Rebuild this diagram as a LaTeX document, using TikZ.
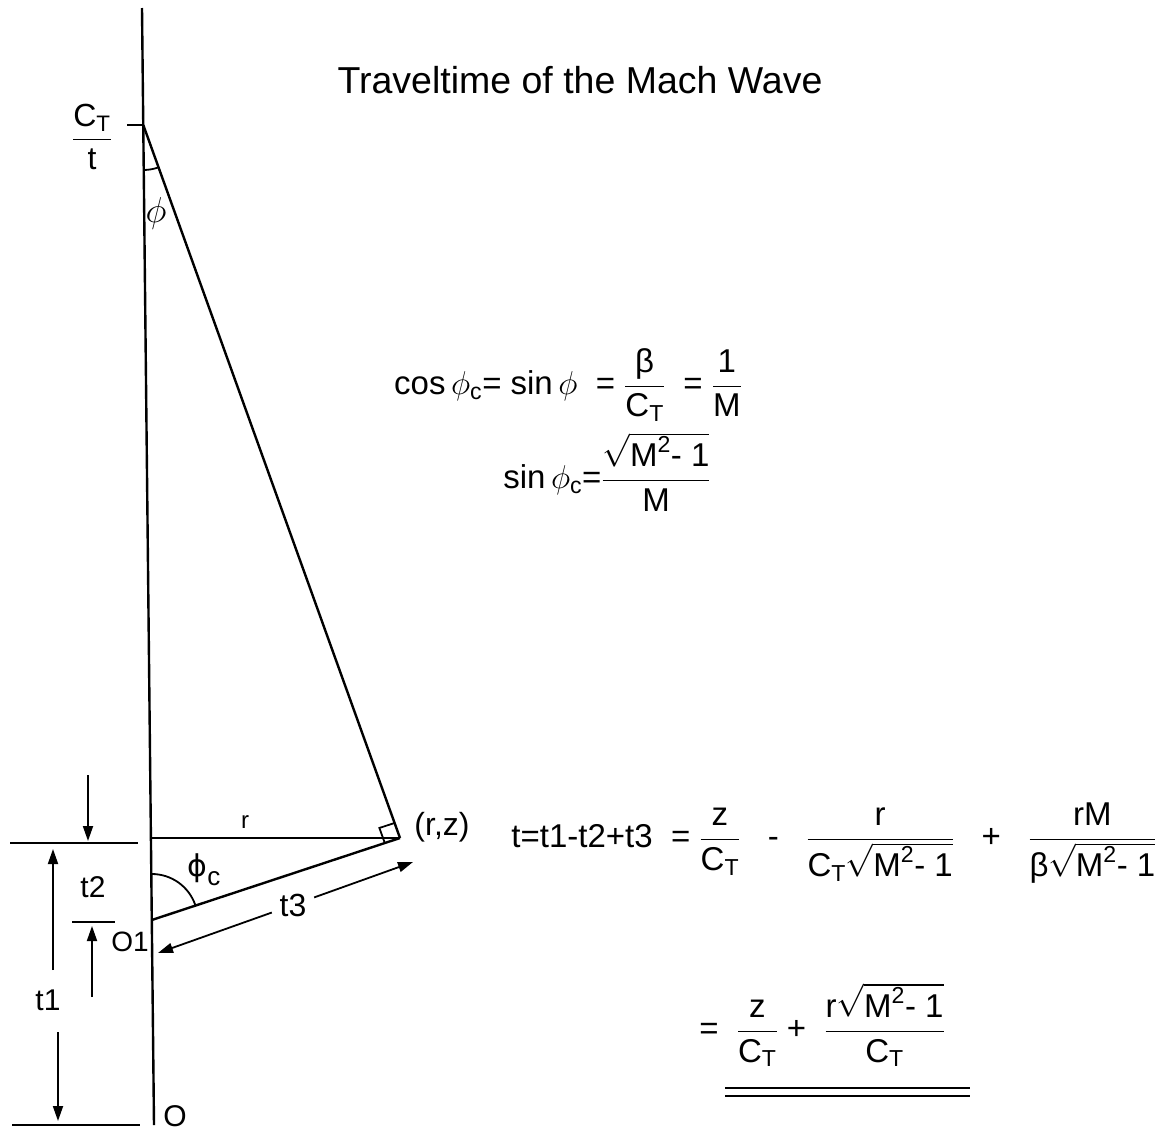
\RequirePackage{fix-cm}
\documentclass[tikz,border=0pt]{standalone}
\usepackage{amsmath}
\usepackage{fontspec}
\setmainfont{Liberation Sans}
\newfontfamily\dvs{DejaVu Sans}
\usetikzlibrary{calc,angles,arrows.meta}
\newcommand\T[1]{\text{#1}}
\newcommand\fsz[1]{\fontsize{#1}{#1}\selectfont}
\begin{document}
\begin{tikzpicture}[x=1pt,y=1pt,
  line width=2.4pt,
  >={Triangle[length=15pt,width=10pt]},
  lbl/.style={inner sep=1pt,font=\fsz{30}},
  eqn/.style={inner sep=0pt,font=\fsz{33}},
  thin line/.style={line width=1.8pt}]
\fill[white] (0,0) rectangle (1165,-1133);
\useasboundingbox (0,0) rectangle (1165,-1133);

% title
\node[font=\fsz{37.5}] (title) at (580,-80) {Traveltime of the Mach Wave};

% axis and triangle
\coordinate (top) at (142,-8);
\coordinate (bot) at (154,-1125);
\coordinate (A) at (143.3,-125);
\coordinate (H) at (150.9,-838);
\coordinate (O1) at (151.8,-920);
\coordinate (P) at (400,-838);
\coordinate (tk) at (127,-125);
\draw (top) -- (bot);
\draw (tk) -- (A);
\draw (A) -- (P);
\draw (H) -- (P);
\draw (O1) -- (P);

% right angle mark
\coordinate (ra) at ($(P)!16pt!(A)$);
\coordinate (rb) at ($(P)!16pt!(O1)$);
\coordinate (rc) at ($(ra)+(rb)-(P)$);
\draw[thin line] (ra) -- (rc) -- (rb);

% angles
\pic[draw, thin line, angle radius=45pt] {angle = H--A--P};
\pic[draw, thin line, angle radius=46pt] {angle = P--O1--A};
\node[lbl,font=\fsz{36}] (phi) at (156,-213) {$\phi$};
\node[lbl] (phic) at (204,-870) {{\dvs ϕ}\raisebox{-9pt}{\fsz{26}c}};

% C_T / t
\node[lbl,font=\fsz{32}] (ct) at (92,-137) {$\dfrac{\T{C}_{\T{T}}}{\T{t}}$};

% labels
\node[lbl,font=\fsz{24}] (r) at (245,-822) {r};
\node[lbl,font=\fsz{32}] (rz) at (442,-827) {(r,z)};
\node[lbl,font=\fsz{32}] (t3) at (293,-905) {t3};
\coordinate (e1) at (158,-953);
\coordinate (e2) at (413,-862);
\draw[->,thin line,shorten <=6pt] (t3) -- (e1);
\draw[->,thin line,shorten <=6pt] (t3) -- (e2);

% left dimension marks
\coordinate (zl1) at (10,-843);
\coordinate (zl2) at (138,-843);
\coordinate (bl1) at (12,-1125);
\coordinate (bl2) at (140,-1125);
\draw (zl1) -- (zl2);
\draw (bl1) -- (bl2);
\coordinate (za) at (88,-775);
\coordinate (zb) at (88,-841);
\draw[->,thin line] (za) -- (zb);

\node[lbl] (t1) at (48,-1000) {t1};
\coordinate (t1a) at (53,-970);
\coordinate (t1b) at (53,-849);
\coordinate (t1c) at (58,-1032);
\coordinate (t1d) at (58,-1121);
\draw[->,thin line] (t1a) -- (t1b);
\draw[->,thin line] (t1c) -- (t1d);

\node[lbl] (t2) at (93,-887) {t2};
\coordinate (b2a) at (72,-922);
\coordinate (b2b) at (115,-922);
\draw[thin line] (b2a) -- (b2b);
\coordinate (t2a) at (92,-997);
\coordinate (t2b) at (92,-926);
\draw[->,thin line] (t2a) -- (t2b);

\node[lbl,font=\fsz{28}] (o1) at (130,-942) {O1};
\node[lbl,font=\fsz{30}] (o) at (175,-1116) {O};

% equations
\node[eqn] (eq1) at (568,-385) {$\T{cos}\,\phi_{\T{c}}\T{= sin}\,\phi\ \ \T{=}\ \dfrac{\T{β}}{\T{C}_{\T{T}}}\ \ \T{=}\ \dfrac{\T{1}}{\T{M}}$};
\node[eqn] (eq2) at (607,-472) {$\T{sin}\,\phi_{\T{c}}\T{=}\dfrac{\sqrt{\T{M}^{\T{2}}\T{- 1}}}{\T{M}}$};
\node[eqn] (eq3) at (834,-843) {$\T{t=t1-t2+t3}\ \ \T{=}\ \dfrac{\T{z}}{\T{C}_{\T{T}}}\ \ \ \T{-}\ \ \ \dfrac{\T{r}}{\T{C}_{\T{T}}\sqrt{\T{M}^{\T{2}}\T{- 1}}}\ \ \ \T{+}\ \ \ \dfrac{\T{rM}}{\T{β}\sqrt{\T{M}^{\T{2}}\T{- 1}}}$};
\node[eqn] (eq4) at (822,-1025) {$\T{=}\ \ \dfrac{\T{z}}{\T{C}_{\T{T}}}\ \T{+}\ \ \dfrac{\T{r}\sqrt{\T{M}^{\T{2}}\T{- 1}}}{\T{C}_{\T{T}}}$};
\coordinate (u1) at (725,-1088);
\coordinate (u2) at (970,-1088);
\coordinate (u3) at (725,-1096);
\coordinate (u4) at (970,-1096);
\draw[thin line] (u1) -- (u2);
\draw[thin line] (u3) -- (u4);
\end{tikzpicture}
\end{document}
